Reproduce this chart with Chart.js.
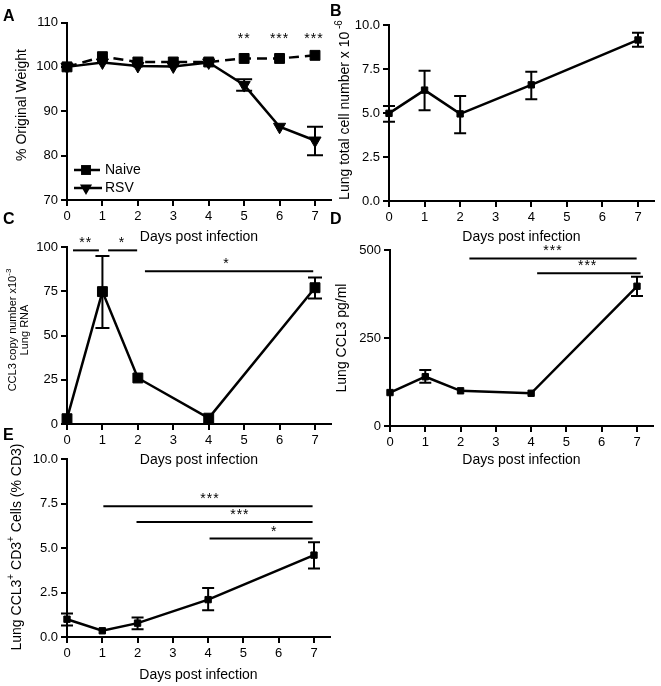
<!DOCTYPE html>
<html>
<head>
<meta charset="utf-8">
<script src="https://cdn.jsdelivr.net/npm/chart.js@4/dist/chart.umd.min.js"></script>
<style>
  html, body { margin: 0; padding: 0; background: #fff; }
  #wrap { position: relative; width: 661px; height: 686px; overflow: hidden; }
  #wrap canvas { position: absolute; left: 0; top: 0; }
  .tag { position: absolute; font: bold 16px "Liberation Sans", Arial, sans-serif; color: #000; line-height: 16px; }
</style>
</head>
<body>
<div id="wrap">
  <canvas id="cA" width="661" height="686"></canvas>
  <canvas id="cB" width="661" height="686"></canvas>
  <canvas id="cC" width="661" height="686"></canvas>
  <canvas id="cD" width="661" height="686"></canvas>
  <canvas id="cE" width="661" height="686"></canvas>
  <div class="tag" style="left:3px;top:8px">A</div>
  <div class="tag" style="left:330px;top:3px">B</div>
  <div class="tag" style="left:3px;top:211px">C</div>
  <div class="tag" style="left:330px;top:211px">D</div>
  <div class="tag" style="left:3px;top:427px">E</div>
</div>
<script>
// ---- data ----
const days = [0, 1, 2, 3, 4, 5, 6, 7];
const sampledDays = [0, 1, 2, 4, 7];
const xTickLabels = [0, 1, 2, 3, 4, 5, 6, 7];

// A: % original weight
const weightNaive = [100, 102.3, 101.1, 101.1, 101.1, 101.9, 101.9, 102.6];
const weightRSV = [100, 101, 100.2, 100.1, 101, 95.9, 86.5, 83.4];
const weightRSVLow = [null, null, null, null, null, 94.6, null, 80.1];
const weightRSVHigh = [null, null, null, null, null, 97.2, null, 86.5];
const weightTicks = [70, 80, 90, 100, 110];
const weightStars = [
    { x: 5, y: 104.7, text: '**' },
    { x: 6, y: 104.7, text: '***' },
    { x: 6.97, y: 104.7, text: '***' }
];

// B: lung total cell number x 10^-6
const cellTotal = [4.98, 6.3, 4.95, 6.6, 9.15];
const cellTotalLow = [4.5, 5.15, 3.85, 5.78, 8.77];
const cellTotalHigh = [5.4, 7.4, 5.97, 7.35, 9.56];
const cellTicks = [0, 2.5, 5, 7.5, 10];

// C: CCL3 copy number x10^-3, lung RNA
const rnaCopies = [3, 74.8, 26, 3.3, 77];
const rnaLow = [null, 54.3, null, null, 70.9];
const rnaHigh = [null, 94.9, null, null, 82.7];
const rnaTicks = [0, 25, 50, 75, 100];
const rnaSig = [
    { from: 0.17, to: 0.9, y: 98.1, text: '**', textX: 0.53 },
    { from: 1.16, to: 1.98, y: 98.1, text: '*', textX: 1.55 },
    { from: 2.2, to: 6.95, y: 86.3, text: '*', textX: 4.5 }
];

// D: lung CCL3 pg/ml
const ccl3Protein = [95, 140, 100, 93, 397];
const ccl3ProteinLow = [null, 123, null, null, 369];
const ccl3ProteinHigh = [null, 159, null, null, 424];
const proteinTicks = [0, 250, 500];
const proteinSig = [
    { from: 2.25, to: 6.99, y: 476, text: '***', textX: 4.62 },
    { from: 4.17, to: 7.1, y: 434, text: '***', textX: 5.6 }
];

// E: CCL3+ CD3+ cells (% CD3)
const tcellPct = [1.0, 0.35, 0.78, 2.1, 4.6];
const tcellLow = [0.65, null, 0.43, 1.5, 3.85];
const tcellHigh = [1.32, null, 1.1, 2.75, 5.33];
const tcellTicks = [0, 2.5, 5, 7.5, 10];
const tcellSig = [
    { from: 1.03, to: 6.96, y: 7.35, text: '***', textX: 4.05 },
    { from: 1.97, to: 6.96, y: 6.46, text: '***', textX: 4.9 },
    { from: 4.04, to: 6.96, y: 5.53, text: '*', textX: 5.87 }
];

// ---- drawing ----
const FONT = '"Liberation Sans", Arial, Helvetica, sans-serif';
const W = 661, H = 686, X_MAX = 7.45;
Chart.defaults.font.family = FONT;
Chart.defaults.font.size = 13;
Chart.defaults.color = '#000';

function pts(xs, ys) {
    return xs.map((x, i) => ({ x: x, y: ys[i] }));
}

function marker(ctx, shape, x, y, r) {
    ctx.beginPath();
    if (shape === 'triangle') {
        ctx.moveTo(x, y + r);
        ctx.lineTo(x - r * 0.866, y - r * 0.5);
        ctx.lineTo(x + r * 0.866, y - r * 0.5);
        ctx.closePath();
    } else {
        const s = r * Math.SQRT1_2;
        ctx.rect(x - s, y - s, 2 * s, 2 * s);
    }
    ctx.fill();
}

function series(label, xs, ys, lo, hi, st) {
    return {
        label: label,
        data: pts(xs, ys),
        errLow: lo,
        errHigh: hi,
        borderColor: '#000',
        backgroundColor: '#000',
        borderWidth: 2.5,
        borderDash: st.dash || [],
        pointStyle: st.shape === 'triangle' ? 'triangle' : 'rect',
        pointRotation: st.shape === 'triangle' ? 180 : 0,
        pointRadius: st.r,
        pointBorderWidth: 1,
        tension: 0,
        fill: false,
        clip: false
    };
}

// error bars with caps
const errorBars = {
    id: 'errorBars',
    afterDatasetsDraw(chart, args, opts) {
        const { ctx, scales: { x, y } } = chart;
        ctx.save();
        ctx.strokeStyle = '#000';
        ctx.lineWidth = 2;
        chart.data.datasets.forEach(ds => {
            if (!ds.errLow) return;
            ds.data.forEach((p, i) => {
                const lo = ds.errLow[i], hi = ds.errHigh[i];
                if (lo == null) return;
                const px = x.getPixelForValue(p.x);
                const y0 = y.getPixelForValue(lo), y1 = y.getPixelForValue(hi);
                const w = opts.cap || 6;
                ctx.beginPath();
                ctx.moveTo(px, y0); ctx.lineTo(px, y1);
                ctx.moveTo(px - w, y0); ctx.lineTo(px + w, y0);
                ctx.moveTo(px - w, y1); ctx.lineTo(px + w, y1);
                ctx.stroke();
            });
        });
        ctx.restore();
    }
};

// significance bars and stars
const sigMarks = {
    id: 'sigMarks',
    afterDraw(chart, args, opts) {
        if (!opts.items) return;
        const { ctx, scales: { x, y } } = chart;
        ctx.save();
        ctx.strokeStyle = '#000';
        ctx.fillStyle = '#000';
        ctx.lineWidth = 2;
        ctx.font = '14px ' + FONT;
        ctx.textAlign = 'center';
        ctx.textBaseline = 'alphabetic';
        if ('letterSpacing' in ctx) ctx.letterSpacing = '1px';
        opts.items.forEach(it => {
            const py = y.getPixelForValue(it.y);
            if (it.from != null) {
                ctx.beginPath();
                ctx.moveTo(x.getPixelForValue(it.from), py);
                ctx.lineTo(x.getPixelForValue(it.to), py);
                ctx.stroke();
            }
            ctx.fillText(it.text, x.getPixelForValue(it.textX != null ? it.textX : it.x), py - 3);
        });
        ctx.restore();
    }
};

// rotated y-axis titles with superscripts
const richTitle = {
    id: 'richTitle',
    afterDraw(chart, args, opts) {
        if (!opts.lines) return;
        const ctx = chart.ctx;
        const size = opts.size;
        const fontOf = sup => (sup ? Math.round(size * 0.7) : size) + 'px ' + FONT;
        ctx.save();
        ctx.fillStyle = '#000';
        ctx.textBaseline = 'middle';
        ctx.textAlign = 'left';
        opts.lines.forEach((line, k) => {
            let total = 0;
            line.forEach(seg => { ctx.font = fontOf(seg.sup); total += ctx.measureText(seg.t).width; });
            ctx.save();
            ctx.translate(opts.x + k * (opts.lineGap || 0), opts.y);
            ctx.rotate(-Math.PI / 2);
            let pos = -total / 2;
            line.forEach(seg => {
                ctx.font = fontOf(seg.sup);
                ctx.fillText(seg.t, pos, seg.sup ? -size * 0.4 : 0);
                pos += ctx.measureText(seg.t).width;
            });
            ctx.restore();
        });
        ctx.restore();
    }
};

// legend drawn inside the plot of panel A
const keyBox = {
    id: 'keyBox',
    afterDraw(chart, args, opts) {
        if (!opts.show) return;
        const ctx = chart.ctx;
        ctx.save();
        ctx.strokeStyle = '#000';
        ctx.fillStyle = '#000';
        ctx.font = '14px ' + FONT;
        ctx.textBaseline = 'middle';
        chart.data.datasets.forEach((ds, k) => {
            const y = opts.y + k * opts.step;
            ctx.lineWidth = ds.borderWidth;
            ctx.setLineDash(ds.borderDash);
            ctx.beginPath();
            ctx.moveTo(opts.x, y);
            ctx.lineTo(opts.x + opts.len, y);
            ctx.stroke();
            ctx.setLineDash([]);
            marker(ctx, ds.pointRotation ? 'triangle' : 'rect', opts.x + opts.mark, y, ds.pointRadius);
            ctx.fillText(ds.label, opts.x + opts.len + 3, y);
        });
        ctx.restore();
    }
};

const axisGrid = {
    display: true, drawOnChartArea: false, drawTicks: true,
    tickLength: 6, tickWidth: 2, tickColor: '#000', color: '#000', lineWidth: 2
};
const axisBorder = { display: true, color: '#000', width: 2 };

function buildPanel(canvasId, lay, datasets, yAxis, plug) {
    const right = lay.left + (lay.x7 - lay.left) * X_MAX / 7;
    const yW = 60;
    const xH = lay.xTitleY - lay.bottom + 8.4;
    return new Chart(document.getElementById(canvasId), {
        type: 'line',
        data: { datasets: datasets },
        options: {
            responsive: false,
            animation: false,
            events: [],
            layout: { padding: { left: lay.left - yW, top: lay.top, right: W - right, bottom: H - lay.bottom - xH } },
            plugins: Object.assign({ legend: { display: false }, tooltip: { enabled: false } }, plug),
            scales: {
                x: {
                    type: 'linear', min: 0, max: X_MAX,
                    grid: axisGrid, border: axisBorder,
                    ticks: { padding: 3 },
                    title: { display: true, text: 'Days post infection', font: { size: 14 }, padding: 0 },
                    afterBuildTicks: s => { s.ticks = xTickLabels.map(v => ({ value: v })); },
                    afterFit: s => { s.height = xH; }
                },
                y: {
                    type: 'linear', min: yAxis.ticks[0], max: yAxis.ticks[yAxis.ticks.length - 1],
                    grid: axisGrid, border: axisBorder,
                    ticks: { padding: 3, callback: v => yAxis.digits ? Number(v).toFixed(yAxis.digits) : String(v) },
                    afterBuildTicks: s => { s.ticks = yAxis.ticks.map(v => ({ value: v })); },
                    afterFit: s => { s.width = yW; }
                }
            }
        },
        plugins: [errorBars, sigMarks, richTitle, keyBox]
    });
}

// A
buildPanel('cA',
    { left: 67, x7: 315, top: 22.5, bottom: 200, xTitleY: 237 },
    [
        series('Naive', days, weightNaive, null, null, { shape: 'rect', r: 7, dash: [10, 6] }),
        series('RSV', days, weightRSV, weightRSVLow, weightRSVHigh, { shape: 'triangle', r: 7 })
    ],
    { ticks: weightTicks },
    {
        errorBars: { cap: 8 },
        sigMarks: { items: weightStars },
        richTitle: { x: 22, y: 105, size: 14, lines: [[{ t: '% Original Weight' }]] },
        keyBox: { show: true, x: 74, y: 170, step: 18, len: 28, mark: 12 }
    });

// B
buildPanel('cB',
    { left: 389, x7: 638, top: 25, bottom: 201, xTitleY: 237 },
    [series('Total cells', sampledDays, cellTotal, cellTotalLow, cellTotalHigh, { shape: 'rect', r: 4.5 })],
    { ticks: cellTicks, digits: 1 },
    {
        errorBars: { cap: 6 },
        richTitle: { x: 345, y: 110, size: 14, lines: [[{ t: 'Lung total cell number x 10' }, { t: ' -6', sup: true }]] }
    });

// C
buildPanel('cC',
    { left: 67, x7: 315, top: 247, bottom: 424, xTitleY: 460 },
    [series('CCL3 RNA', sampledDays, rnaCopies, rnaLow, rnaHigh, { shape: 'rect', r: 7 })],
    { ticks: rnaTicks },
    {
        errorBars: { cap: 7 },
        sigMarks: { items: rnaSig },
        richTitle: {
            x: 13, y: 330, size: 11, lineGap: 12,
            lines: [[{ t: 'CCL3 copy number x10' }, { t: '-3', sup: true }], [{ t: 'Lung RNA' }]]
        }
    });

// D
buildPanel('cD',
    { left: 390, x7: 637, top: 250, bottom: 426, xTitleY: 460 },
    [series('CCL3 protein', sampledDays, ccl3Protein, ccl3ProteinLow, ccl3ProteinHigh, { shape: 'rect', r: 4.5 })],
    { ticks: proteinTicks },
    {
        errorBars: { cap: 6 },
        sigMarks: { items: proteinSig },
        richTitle: { x: 342, y: 338, size: 14, lines: [[{ t: 'Lung CCL3 pg/ml' }]] }
    });

// E
buildPanel('cE',
    { left: 67, x7: 314, top: 459, bottom: 637, xTitleY: 675 },
    [series('CCL3+ CD3+', sampledDays, tcellPct, tcellLow, tcellHigh, { shape: 'rect', r: 4.5 })],
    { ticks: tcellTicks, digits: 1 },
    {
        errorBars: { cap: 6 },
        sigMarks: { items: tcellSig },
        richTitle: {
            x: 17, y: 547, size: 14,
            lines: [[{ t: 'Lung CCL3' }, { t: '+', sup: true }, { t: ' CD3' }, { t: '+', sup: true }, { t: ' Cells (% CD3)' }]]
        }
    });
</script>
</body>
</html>
